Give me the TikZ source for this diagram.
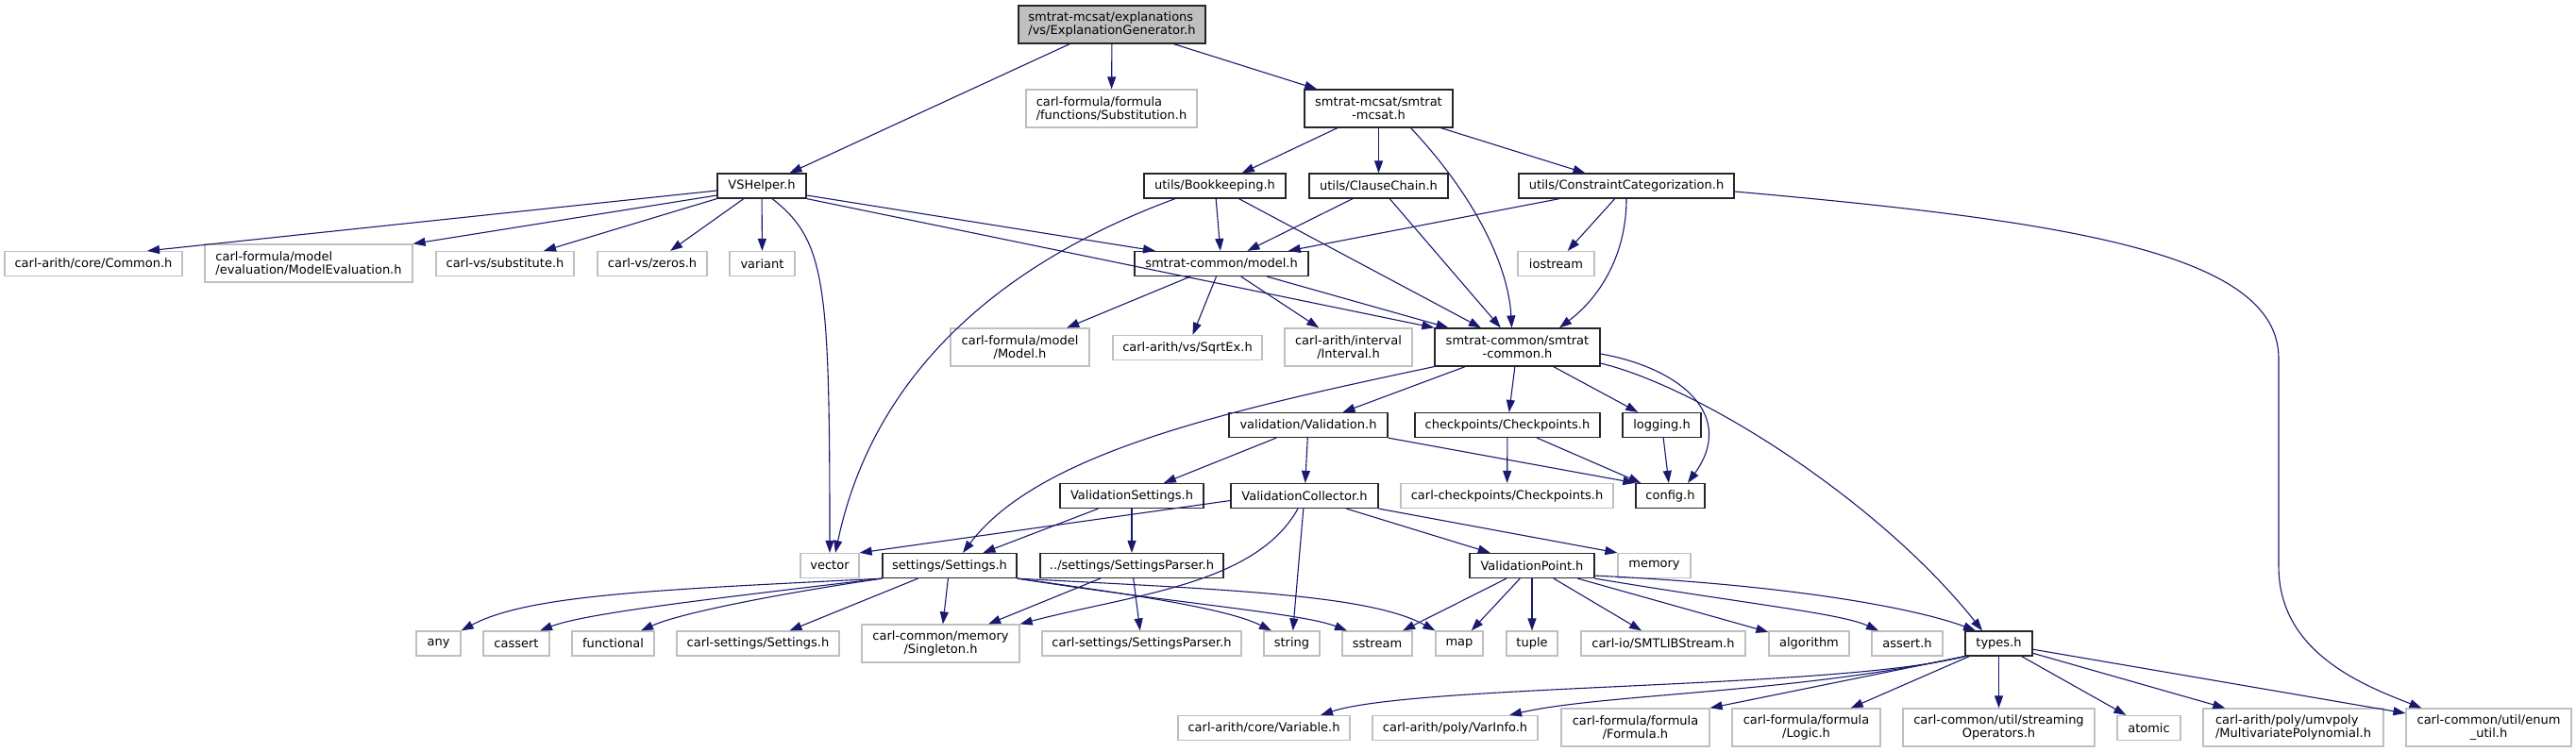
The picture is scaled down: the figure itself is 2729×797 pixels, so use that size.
\documentclass[tikz,border=0pt]{standalone}
\usepackage{fontspec}
\setmainfont{DejaVu Sans}
\usetikzlibrary{arrows.meta}
\definecolor{edgeblue}{HTML}{191970}
\definecolor{extgray}{HTML}{BFBFBF}

\begin{document}
\begin{tikzpicture}[x=1pt,y=-1pt,
  box/.style={draw,rectangle,inner sep=1pt,minimum height=26pt,align=center,line width=1.2pt,font=\fontsize{13}{14.5}\selectfont},
  hdr/.style={box,draw=black!85},
  sys/.style={box,draw=extgray},
  dbl/.style={minimum height=40pt},
  dep/.style={draw=edgeblue,line width=1.1pt,-{Triangle[length=13pt,width=9pt]}}]
\useasboundingbox (0,0) rectangle (2729,797);
% top rows
\node[hdr,dbl,fill=extgray,align=left,minimum width=198pt] (root) at (1178,26) {smtrat-mcsat/explanations\\/vs/ExplanationGenerator.h};
\node[sys,dbl,align=left,minimum width=181pt] (subst) at (1177.5,115) {carl-formula/formula\\/functions/Substitution.h};
\node[hdr,dbl,minimum width=157pt] (mcsat) at (1460.5,115) {smtrat-mcsat/smtrat\\-mcsat.h};
\node[hdr,minimum width=94pt] (vshelper) at (807,197) {VSHelper.h};
\node[hdr,minimum width=150pt] (bookkeeping) at (1287,197) {utils/Bookkeeping.h};
\node[hdr,minimum width=147pt] (clausechain) at (1460.5,197) {utils/ClauseChain.h};
\node[hdr,minimum width=228pt] (constrcat) at (1723,197) {utils/ConstraintCategorization.h};
\node[sys,dbl,align=left,minimum width=220pt] (modeleval) at (327,279) {carl-formula/model\\/evaluation/ModelEvaluation.h};
\foreach \n/\x/\w/\t in {arithcommon/99/188/{carl-arith/core/Common.h},substitute/535/146/{carl-vs/substitute.h},
    zeros/691/116/{carl-vs/zeros.h},variant/807.5/69/variant,iostream/1648.5/81/iostream}
  \node[sys,minimum width=\w pt] (\n) at (\x,279.5) {\t};
\node[hdr,minimum width=184pt] (model) at (1294,279.5) {smtrat-common/model.h};
\node[sys,dbl,minimum width=147pt] (modelh) at (1080.5,368) {carl-formula/model\\/Model.h};
\node[sys,minimum width=158pt] (sqrtex) at (1258,368.5) {carl-arith/vs/SqrtEx.h};
\node[sys,dbl,minimum width=135pt] (interval) at (1428.5,368) {carl-arith/interval\\/Interval.h};
\node[hdr,dbl,minimum width=175pt] (smtratcommon) at (1607.5,368) {smtrat-common/smtrat\\-common.h};
% middle rows
\node[hdr,minimum width=168pt] (validation) at (1386,450.5) {validation/Validation.h};
\node[hdr,minimum width=196pt] (checkpoints) at (1597,450.5) {checkpoints/Checkpoints.h};
\node[hdr,minimum width=83pt] (logging) at (1760.5,450.5) {logging.h};
\node[hdr,minimum width=152pt] (valsettings) at (1199,525.5) {ValidationSettings.h};
\node[hdr,minimum width=156pt] (valcollector) at (1382,525.5) {ValidationCollector.h};
\node[sys,minimum width=225pt] (carlcheckpoints) at (1596.5,525.5) {carl-checkpoints/Checkpoints.h};
\node[hdr,minimum width=73pt] (config) at (1769.5,525.5) {config.h};
\node[sys,minimum width=62pt] (vector) at (879,599.5) {vector};
\node[hdr,minimum width=142pt] (settings) at (1006,599.5) {settings/Settings.h};
\node[hdr,minimum width=194pt] (settingsparser) at (1199,599.5) {../settings/SettingsParser.h};
\node[hdr,minimum width=132pt] (valpoint) at (1623,599.5) {ValidationPoint.h};
\node[sys,minimum width=77pt] (memory) at (1752.5,599.5) {memory};
% bottom rows
\foreach \n/\x/\w/\t in {any/464.5/47/any,cassert/547/70/cassert,functional/649.5/87/functional,
    carlsettings/803/172/{carl-settings/Settings.h},carlsettingsparser/1209.5/211/{carl-settings/SettingsParser.h},
    string/1368.5/59/string,sstream/1459/74/sstream,map/1546/50/map,tuple/1623/54/tuple,
    smtlib/1762/174/{carl-io/SMTLIBStream.h},algorithm/1916.5/85/algorithm,asserth/2020.5/75/assert.h}
  \node[sys,minimum width=\w pt] (\n) at (\x,682) {\t};
\node[sys,dbl,minimum width=167pt] (singleton) at (996.5,682) {carl-common/memory\\/Singleton.h};
\node[hdr,minimum width=71pt] (types) at (2117.5,682) {types.h};
\node[sys,minimum width=182pt] (variable) at (1339,771.5) {carl-arith/core/Variable.h};
\node[sys,minimum width=175pt] (varinfo) at (1541.5,771.5) {carl-arith/poly/VarInfo.h};
\node[sys,dbl,minimum width=157pt] (formula) at (1732.5,771) {carl-formula/formula\\/Formula.h};
\node[sys,dbl,minimum width=157pt] (logic) at (1913.5,771) {carl-formula/formula\\/Logic.h};
\node[sys,dbl,minimum width=203pt] (streaming) at (2117.5,771) {carl-common/util/streaming\\Operators.h};
\node[sys,minimum width=67pt] (atomic) at (2276.5,771.5) {atomic};
\node[sys,dbl,align=left,minimum width=191pt] (multipoly) at (2429.5,771) {carl-arith/poly/umvpoly\\/MultivariatePolynomial.h};
\node[sys,dbl,minimum width=175pt] (enumutil) at (2636.5,771) {carl-common/util/enum\\\_util.h};
% straight includes
\foreach \a/\b in {root/vshelper,root/subst,root/mcsat,mcsat/bookkeeping,mcsat/clausechain,mcsat/constrcat,
    vshelper/zeros,vshelper/variant,bookkeeping/model,bookkeeping/smtratcommon,clausechain/model,
    clausechain/smtratcommon,constrcat/model,constrcat/iostream,model/modelh,model/sqrtex,model/interval,
    model/smtratcommon,smtratcommon/validation,smtratcommon/checkpoints,smtratcommon/logging,
    validation/valsettings,validation/valcollector,checkpoints/carlcheckpoints,checkpoints/config,logging/config,
    valsettings/settings,valsettings/settingsparser,valcollector/string,valcollector/valpoint,
    settingsparser/singleton,settingsparser/carlsettingsparser,settings/carlsettings,settings/singleton,
    valpoint/sstream,valpoint/map,valpoint/tuple,valpoint/smtlib,valpoint/algorithm,
    types/logic,types/streaming,types/atomic,types/multipoly,types/enumutil}
  \draw[dep] (\a) -- (\b);
\draw[dep] ([yshift=-5pt]vshelper.west) -- ([xshift=57pt]arithcommon.north);
\draw[dep] ([yshift=-10pt]vshelper.west) -- (modeleval.north east);
\draw[dep] (vshelper.south west) -- ([xshift=41pt]substitute.north);
\draw[dep] ([yshift=-10pt]vshelper.east) -- ([xshift=-70pt]model.north);
\draw[dep] (vshelper.south east) -- (smtratcommon.north west);
\draw[dep] (validation.south east) -- (config.north west);
\draw[dep] ([yshift=-5pt]valcollector.west) -- (vector.north east);
\draw[dep] (valcollector.south east) -- (memory.north west);
\draw[dep] (types.south west) -- (formula.north east);
% curved includes
\draw[dep] ([xshift=11pt]vshelper.south) .. controls (875,255) and (879,300) .. (vector.north);
\draw[dep] ([xshift=-42pt]bookkeeping.south) .. controls (1030,290) and (920,420) .. ([xshift=6pt]vector.north);
\draw[dep] ([xshift=34pt]mcsat.south) .. controls (1560,205) and (1598,280) .. ([xshift=-6pt]smtratcommon.north);
\draw[dep] (constrcat.south) .. controls (1723,270) and (1695,315) .. ([xshift=44.5pt]smtratcommon.north);
\draw[dep] ([yshift=-6pt]constrcat.east) .. controls (2200,235) and (2414,270) .. (2414,380) -- (2414,600)
  .. controls (2414,690) and (2500,725) .. ([xshift=-71pt]enumutil.north);
\draw[dep] (smtratcommon.south west) .. controls (1300,435) and (1100,480) .. ([xshift=14pt]settings.north);
\draw[dep] ([yshift=-7pt]smtratcommon.east) .. controls (1780,390) and (1840,440) .. ([xshift=18.5pt]config.north);
\draw[dep] ([yshift=-17pt]smtratcommon.east) .. controls (1800,410) and (1990,530) .. ([xshift=-17.5pt]types.north);
\draw[dep] ([xshift=-7pt]valcollector.south) .. controls (1330,620) and (1200,630) .. (singleton.north east);
\draw[dep] (settings.south west) .. controls (700,625) and (560,630) .. (any.north east);
\draw[dep] (settings.south west) .. controls (750,635) and (620,650) .. ([xshift=25pt]cassert.north);
\draw[dep] (settings.south west) .. controls (820,630) and (720,650) .. ([xshift=29.5pt]functional.north);
\draw[dep] (settings.south east) .. controls (1200,630) and (1300,645) .. ([xshift=-21.5pt]string.north);
\draw[dep] (settings.south east) .. controls (1250,640) and (1380,650) .. ([xshift=-32pt]sstream.north);
\draw[dep] (settings.south east) .. controls (1300,625) and (1450,630) .. (map.north west);
\draw[dep] (valpoint.south east) .. controls (1850,640) and (1950,650) .. ([xshift=-30.5pt]asserth.north);
\draw[dep] ([yshift=3pt]valpoint.south east) .. controls (1900,620) and (2030,645) .. ([xshift=-24.5pt]types.north);
\draw[dep] (types.south west) .. controls (1950,730) and (1500,725) .. ([xshift=60pt]variable.north);
\draw[dep] (types.south west) .. controls (1900,735) and (1700,735) .. ([xshift=57.5pt]varinfo.north);
\end{tikzpicture}
\end{document}
